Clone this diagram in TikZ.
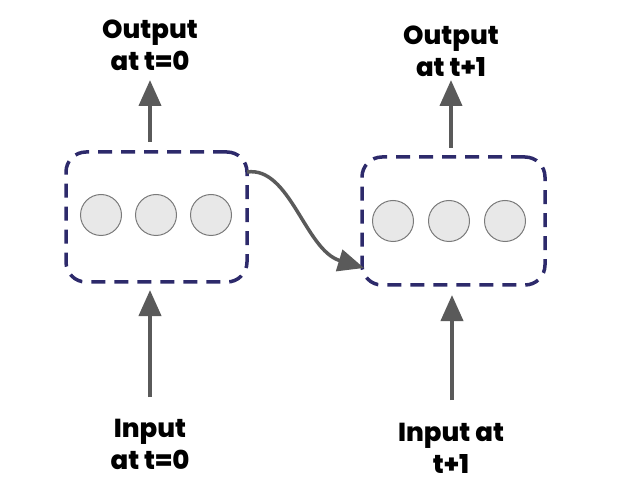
\documentclass[tikz,border=0pt]{standalone}
\usepackage{fontspec}
\setmainfont{Poppins}[BoldFont={* ExtraBold}]
\usetikzlibrary{arrows.meta}
\definecolor{navy}{HTML}{2D2A6B}
\definecolor{arrowgray}{HTML}{5A5A5A}
\definecolor{cellfill}{HTML}{E8E8E8}
\definecolor{cellline}{HTML}{7A7A7A}
\tikzset{
  layerbox/.style={draw=navy, line width=3.5pt, dash pattern=on 14pt off 9pt, rounded corners=20pt},
  cell/.style={circle, draw=cellline, fill=cellfill, line width=1pt, minimum size=41pt, inner sep=0pt},
  flow/.style={draw=arrowgray, line width=4pt, -{Triangle[length=26pt,width=22pt]}},
  lbl/.style={font=\bfseries\fontsize{26}{32}\selectfont, align=center, text=black, inner sep=0pt}
}
\begin{document}
\begin{tikzpicture}[x=1pt,y=-1pt]
\useasboundingbox (0,0) rectangle (621,486);
% boxes
\node[layerbox, minimum width=181pt, minimum height=130pt] (b1) at (156.5,217) {};
\node[layerbox, minimum width=183pt, minimum height=128pt] (b2) at (453.5,221) {};
% cells
\node[cell] (c11) at (101,215) {};
\node[cell] (c12) at (156,215) {};
\node[cell] (c13) at (211,215) {};
\node[cell] (c21) at (393,221) {};
\node[cell] (c22) at (449,221) {};
\node[cell] (c23) at (505,221) {};
% labels
\node[lbl] (o1) at (150,45) {Output\\at t=0};
\node[lbl] (o2) at (451,51) {Output\\at t+1};
\node[lbl] (i1) at (150,444) {Input\\at t=0};
\node[lbl] (i2) at (451,448) {Input at\\t+1};
% anchor coordinates
\coordinate (o1s) at (150,142);
\coordinate (o1e) at (150,80);
\coordinate (o2s) at (451,148);
\coordinate (o2e) at (451,80);
\coordinate (i1s) at (150,397);
\coordinate (i1e) at (150,290);
\coordinate (i2s) at (452,400);
\coordinate (i2e) at (452,295);
\coordinate (rs) at (247,172);
\coordinate (re) at (364,268);
% arrows
\draw[flow] (o1s) -- (o1e);
\draw[flow] (o2s) -- (o2e);
\draw[flow] (i1s) -- (i1e);
\draw[flow] (i2s) -- (i2e);
\draw[flow, line width=3.5pt] (rs) .. controls (290,166) and (305,250) .. (re);
\end{tikzpicture}
\end{document}
